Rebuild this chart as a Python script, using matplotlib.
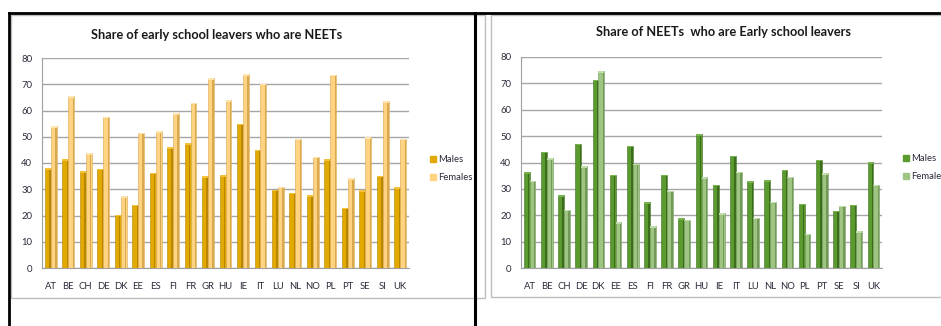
import numpy as np
import matplotlib
matplotlib.use("Agg")
import matplotlib.pyplot as plt
from matplotlib.lines import Line2D
from matplotlib.patches import Rectangle

plt.rcParams['font.family'] = ['Lato', 'DejaVu Sans']

countries = ['AT', 'BE', 'CH', 'DE', 'DK', 'EE', 'ES', 'FI', 'FR', 'GR', 'HU',
             'IE', 'IT', 'LU', 'NL', 'NO', 'PL', 'PT', 'SE', 'SI', 'UK']

# share of early school leavers who are NEETs
esl_males = [38, 41.5, 36.8, 37.8, 20.3, 24.1, 36.3, 46.1, 47.6, 34.9, 35.4,
             55.0, 45.1, 29.8, 28.7, 27.8, 41.5, 23.0, 29.7, 35.2, 30.7]
esl_females = [54.0, 65.4, 43.8, 57.7, 27.4, 51.6, 52.1, 59.0, 63.0, 72.4, 64.0,
               73.9, 70.2, 30.9, 49.3, 42.4, 73.7, 34.3, 49.8, 63.6, 49.3]

# share of NEETs who are early school leavers
neet_males = [36.4, 44.1, 27.6, 47.2, 71.4, 35.3, 46.4, 24.9, 35.4, 18.8, 50.7,
              31.6, 42.5, 32.9, 33.2, 37.3, 24.3, 41.1, 21.7, 24.0, 40.1]
neet_females = [33.1, 41.6, 22.1, 38.6, 74.6, 17.4, 39.6, 15.8, 29.3, 18.3, 34.4,
                20.7, 36.5, 19.1, 25.2, 34.6, 13.0, 35.9, 23.6, 14.0, 31.6]

W, H = 941, 326
fig = plt.figure(figsize=(W / 100, H / 100), dpi=100)


def fx(px):
    return px / W


def fy(py):
    return 1 - py / H


def draw_chart(rect, title, title_xy, males, females, cols, legend_xy):
    ax = fig.add_axes(rect)
    x = np.arange(len(countries))
    w = 0.34
    for vals, off, (face, side, top) in zip([males, females], [-w / 2, w / 2], cols):
        ax.bar(x + off, vals, width=w, color=face, edgecolor=side, linewidth=0.4, zorder=3)
        # darker right side to fake the 3D look
        ax.bar(x + off + w / 2 - 0.05, vals, width=0.08, color=side, linewidth=0, zorder=4)
        ax.bar(x + off, 0.6, bottom=np.array(vals) - 0.6, width=w, color=top,
               linewidth=0, zorder=4)
    ax.set_xlim(-0.5, len(countries) - 0.5)
    ax.set_ylim(0, 80)
    ax.set_yticks(range(0, 81, 10))
    ax.set_xticks(x)
    ax.set_xticklabels(countries)
    ax.yaxis.grid(True, color='#a6a6a6', lw=1.0, zorder=0)
    ax.set_axisbelow(True)
    for s in ['top', 'right']:
        ax.spines[s].set_visible(False)
    for s in ['left', 'bottom']:
        ax.spines[s].set_color('#a0a0a0')
    ax.tick_params(length=0, labelsize=6.8, labelcolor='#2b2b3b')
    ax.tick_params(axis='x', pad=10)
    ax.tick_params(axis='y', pad=7)
    fig.text(fx(title_xy[0]), fy(title_xy[1]), title, ha='center', va='center',
             fontsize=9.2, fontweight='bold', color='#1a1a1a')
    handles = [Rectangle((0, 0), 1, 1, color=cols[0][0]),
               Rectangle((0, 0), 1, 1, color=cols[1][0])]
    fig.legend(handles, ['Males', 'Females'], loc='upper left',
               bbox_to_anchor=(fx(legend_xy[0]), fy(legend_xy[1])),
               frameon=False, fontsize=6.8, handlelength=0.6, handleheight=0.6,
               handletextpad=0.3, labelspacing=1.0, borderaxespad=0, borderpad=0,
               labelcolor='#2b2b3b')
    return ax


gold = [('#e2a900', '#b88600', '#f2c23a'), ('#ffd382', '#d9a94f', '#ffe4b0')]
green = [('#5a9a2e', '#3c6d1c', '#79b34c'), ('#9fc583', '#72995a', '#c0dcab')]

# panel borders
fig.add_artist(Rectangle((fx(11), fy(298)), fx(485 - 11), fy(15) - fy(298),
                         fill=False, ec='#bdbdbd', lw=1.0, zorder=-1))
fig.add_artist(Rectangle((fx(491), fy(297)), fx(960 - 491), fy(15) - fy(297),
                         fill=False, ec='#bdbdbd', lw=1.0, zorder=-1))

draw_chart([fx(42), fy(268), fx(409 - 42), fy(58) - fy(268)],
           'Share of early school leavers who are NEETs', (217, 35),
           esl_males, esl_females, gold, (430, 155))
draw_chart([fx(521), fy(268), fx(882 - 521), fy(57) - fy(268)],
           'Share of NEETs  who are Early school leavers', (724, 32),
           neet_males, neet_females, green, (903, 154))

# black frame lines of the sheet
for xs, ys, lw in [([9, 941], [13, 13], 2.0), ([9, 9], [13, 326], 2.0),
                   ([475, 475], [13, 326], 2.2)]:
    fig.add_artist(Line2D([fx(v) for v in xs], [fy(v) for v in ys], color='black',
                          lw=lw, zorder=20))

fig.savefig('out.png', dpi=100)
